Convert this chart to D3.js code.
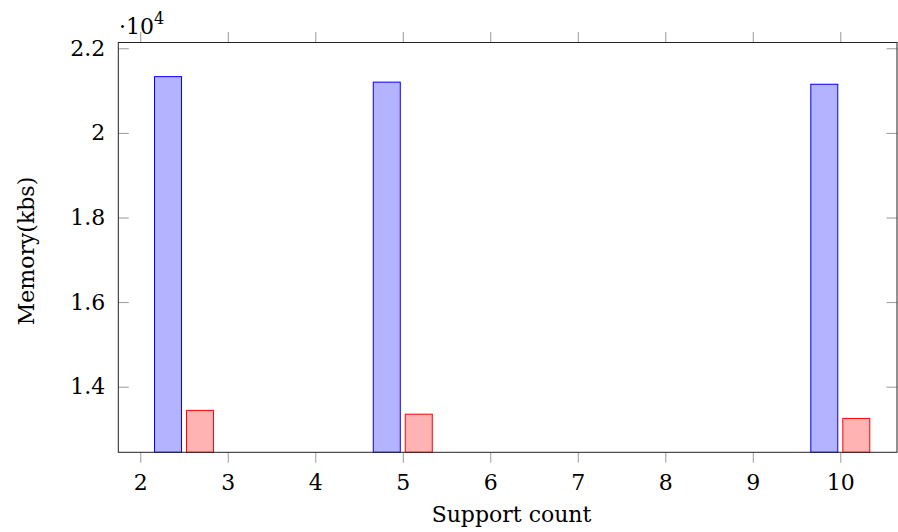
<!DOCTYPE html>
<html>
<head>
<meta charset="utf-8">
<script src="https://cdn.jsdelivr.net/npm/d3@7"></script>
<style>
  body { margin: 0; background: #fff; }
  svg text { font-family: "DejaVu Serif", serif; fill: #000; }
</style>
</head>
<body>
<svg id="chart" width="898" height="532"></svg>
<script>
// values
const supportCounts = [2.5, 5, 10];
const memoryA = [21330, 21200, 21150];   // blue bars
const memoryB = [13440, 13350, 13250];   // red bars

const xTicks = [2, 3, 4, 5, 6, 7, 8, 9, 10];
const yTicks = [14000, 16000, 18000, 20000, 22000];
const yTickLabels = ['1.4', '1.6', '1.8', '2', '2.2'];

const svg = d3.select('#chart');

// plot box
const plotLeft = 118.3, plotRight = 897, plotTop = 42.5, plotBottom = 452.3;
const tickLen = 10.5;
const fontFamily = '"DejaVu Serif", serif';
const fontSize = 22;

const x = d3.scaleLinear().domain([1.749, 10.648]).range([plotLeft, plotRight]);
const y = d3.scaleLinear().domain([12449, 22137]).range([plotBottom, plotTop]);

const barWidth = 27;
const barShift = 16;

const series = [
    {values: memoryA, shift: -barShift, fill: 'rgb(179,179,255)', stroke: '#0000ff'},
    {values: memoryB, shift: barShift, fill: 'rgb(255,179,179)', stroke: '#ff0000'}
];

series.forEach((s) => {
    svg.append('g')
        .selectAll('rect')
        .data(s.values)
        .enter()
        .append('rect')
        .attr('x', (d, i) => x(supportCounts[i]) + s.shift - barWidth / 2)
        .attr('y', (d) => y(d))
        .attr('width', barWidth)
        .attr('height', (d) => y.range()[0] - y(d))
        .style('fill', s.fill)
        .style('stroke', s.stroke)
        .style('stroke-width', '1px');
});

// axes: x ticks outside, y ticks inside
let xBottom = svg.append('g')
    .attr('transform', 'translate(0,' + plotBottom + ')')
    .call(d3.axisBottom(x).tickValues(xTicks).tickSizeInner(tickLen).tickSizeOuter(0).tickPadding(12).tickFormat(d3.format('d')));

let xTop = svg.append('g')
    .attr('transform', 'translate(0,' + plotTop + ')')
    .call(d3.axisTop(x).tickValues(xTicks).tickSizeInner(tickLen).tickSizeOuter(0).tickFormat(''));

let yLeft = svg.append('g')
    .attr('transform', 'translate(' + plotLeft + ',0)')
    .call(d3.axisLeft(y).tickValues(yTicks).tickSizeInner(-tickLen).tickSizeOuter(0).tickPadding(13)
        .tickFormat((d, i) => yTickLabels[i]));

let yRight = svg.append('g')
    .attr('transform', 'translate(' + plotRight + ',0)')
    .call(d3.axisRight(y).tickValues(yTicks).tickSizeInner(-tickLen).tickSizeOuter(0).tickFormat(''));

[xBottom, xTop, yLeft, yRight].forEach((g) => {
    g.attr('font-family', null).attr('font-size', null);
    g.select('.domain').remove();
    g.selectAll('.tick line').style('stroke', '#999').style('stroke-width', '1px');
    g.selectAll('.tick text')
        .style('font-family', fontFamily)
        .style('font-size', fontSize + 'px');
});

// frame
svg.append('rect')
    .attr('x', plotLeft)
    .attr('y', plotTop)
    .attr('width', plotRight - plotLeft)
    .attr('height', plotBottom - plotTop)
    .style('fill', 'none')
    .style('stroke', '#222')
    .style('stroke-width', '1px');

// axis labels
svg.append('text')
    .attr('x', 511.5)
    .attr('y', 521.7)
    .attr('text-anchor', 'middle')
    .style('font-family', fontFamily)
    .style('font-size', fontSize + 'px')
    .text('Support count');

svg.append('text')
    .attr('transform', 'translate(33.5,' + 251 + ') rotate(-90)')
    .attr('text-anchor', 'middle')
    .style('font-family', fontFamily)
    .style('font-size', fontSize + 'px')
    .text('Memory(kbs)');

// scale factor
let mult = svg.append('text')
    .attr('x', 119)
    .attr('y', 33.5)
    .style('font-family', fontFamily)
    .style('font-size', fontSize + 'px');
mult.append('tspan').text('\u00b710');
mult.append('tspan')
    .attr('dy', -10)
    .style('font-size', '16px')
    .text('4');
</script>
</body>
</html>
